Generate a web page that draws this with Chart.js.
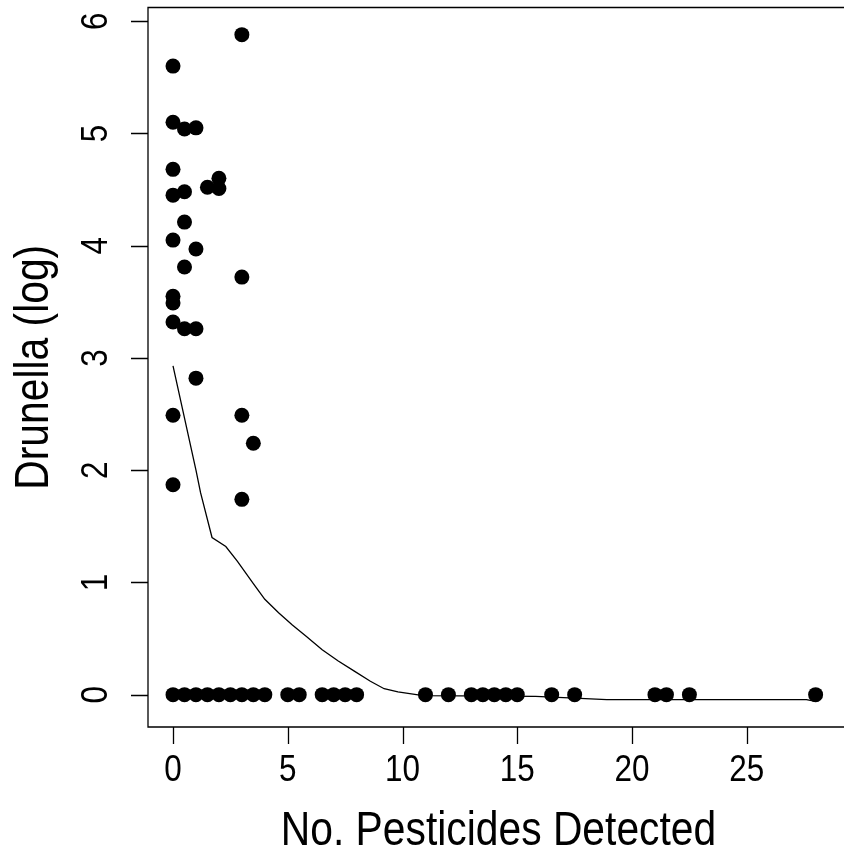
<!DOCTYPE html>
<html>
<head>
<meta charset="utf-8">
<title>Drunella vs pesticides</title>
<script src="https://cdn.jsdelivr.net/npm/chart.js@4.4.1/dist/chart.umd.min.js"></script>
<style>
    html, body { margin: 0; padding: 0; background: #fff; }
    #grafico { display: block; }
</style>
</head>
<body>
<canvas id="grafico" width="844" height="858"></canvas>
<script>
// sites: number of pesticides detected and log Drunella abundance
const pestX = [
    3, 0, 0, 0.5, 1, 0, 0, 0.5, 1.5, 2, 2, 0.5, 0, 1, 0.5, 3, 0, 0, 0, 0.5, 1, 1, 0, 3, 3.5, 0, 3,
    0, 0.5, 1, 1.5, 2, 2.5, 3, 3.5, 4, 5, 5.5, 6.5, 7, 7.5, 8,
    11, 12, 13, 13.5, 14, 14.5, 15, 16.5, 17.5, 21, 21.5, 22.5, 28
];
const drunellaY = [
    5.88, 5.60, 5.10, 5.04, 5.05, 4.68, 4.45, 4.48, 4.52, 4.60, 4.51, 4.21, 4.05, 3.97, 3.81, 3.72, 3.55, 3.49, 3.32, 3.26, 3.26, 2.82, 2.49, 2.49, 2.24, 1.87, 1.74,
    0, 0, 0, 0, 0, 0, 0, 0, 0, 0, 0, 0, 0, 0, 0,
    0, 0, 0, 0, 0, 0, 0, 0, 0, 0, 0, 0, 0
];

// smoothed curve (lowess)
const suaveX = [0, 1.0, 1.2, 1.7, 2.3, 2.8, 3.5, 4.0, 4.6, 5.2, 5.8, 6.5, 7.2, 7.9, 8.6, 9.2, 9.8, 10.9, 15.8, 17.5, 18.9, 27.6, 28];
const suaveY = [2.93, 2.00, 1.80, 1.40, 1.32, 1.19, 0.99, 0.85, 0.73, 0.62, 0.52, 0.40, 0.30, 0.21, 0.12, 0.053, 0.024, -0.009, -0.015, -0.03, -0.045, -0.045, -0.06];

const ticksX = [0, 5, 10, 15, 20, 25];
const ticksY = [0, 1, 2, 3, 4, 5, 6];
const tituloX = 'No. Pesticides Detected';
const tituloY = 'Drunella (log)';

const puntos = pestX.map(function(x, i) { return { x: x, y: drunellaY[i] }; });
const curva = suaveX.map(function(x, i) { return { x: x, y: suaveY[i] }; });

const FUENTE = '"Liberation Sans", Arial, Helvetica, sans-serif';

// narrow text like the R device font
function texto(ctx, str, x, y, size, girar) {
    ctx.save();
    ctx.translate(x, y);
    if (girar) ctx.rotate(-Math.PI / 2);
    ctx.scale(0.85, 1);
    ctx.font = size + 'px ' + FUENTE;
    ctx.fillStyle = '#000';
    ctx.textAlign = 'center';
    ctx.textBaseline = 'middle';
    ctx.fillText(str, 0, 0);
    ctx.restore();
}

// box, ticks and labels in base-graphics style
const ejesR = {
    id: 'ejesR',
    afterDraw: function(chart) {
        const ctx = chart.ctx;
        const a = chart.chartArea;
        const sx = chart.scales.x;
        const sy = chart.scales.y;
        const largo = 17;

        ctx.save();
        ctx.strokeStyle = '#000';
        ctx.lineWidth = 1.3;
        ctx.beginPath();
        ctx.rect(a.left, a.top, a.right - a.left + 10, a.bottom - a.top);
        ctx.stroke();

        ctx.beginPath();
        ticksX.forEach(function(t) {
            const px = Math.round(sx.getPixelForValue(t)) + 0.5;
            ctx.moveTo(px, a.bottom);
            ctx.lineTo(px, a.bottom + largo);
        });
        ticksY.forEach(function(t) {
            const py = Math.round(sy.getPixelForValue(t)) + 0.5;
            ctx.moveTo(a.left, py);
            ctx.lineTo(a.left - largo, py);
        });
        ctx.stroke();
        ctx.restore();

        ticksX.forEach(function(t) {
            texto(ctx, String(t), sx.getPixelForValue(t), 771, 37, false);
        });
        ticksY.forEach(function(t) {
            texto(ctx, String(t), 97, sy.getPixelForValue(t), 37, true);
        });

        texto(ctx, tituloX, (a.left + 849) / 2, 832, 48, false);
        texto(ctx, tituloY, 35, (a.top + a.bottom) / 2, 48, true);
    }
};

const ctx = document.querySelector('#grafico');
const grafico = new Chart(ctx, {
    type: 'scatter',
    data: {
        datasets: [{
            type: 'line',
            data: curva,
            borderColor: '#000',
            borderWidth: 1.3,
            pointRadius: 0,
            tension: 0,
            fill: false
        }, {
            data: puntos,
            backgroundColor: '#000',
            borderColor: '#000',
            borderWidth: 0,
            pointRadius: 7.5,
            pointHoverRadius: 7.5
        }]
    },
    options: {
        responsive: false,
        animation: false,
        events: [],
        layout: {
            padding: { left: 148, top: 7, right: 0, bottom: 131 }
        },
        plugins: {
            legend: { display: false },
            tooltip: { enabled: false }
        },
        scales: {
            x: { type: 'linear', display: false, min: -1.09, max: 28.91 },
            y: { type: 'linear', display: false, min: -0.288, max: 6.122 }
        }
    },
    plugins: [ejesR]
});
</script>
</body>
</html>
